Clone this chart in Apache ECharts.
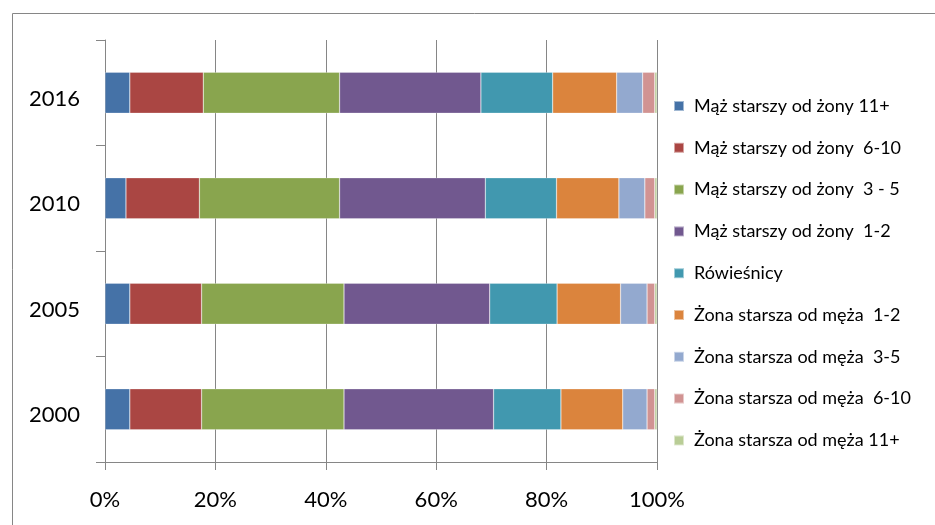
<!DOCTYPE html>
<html>
<head>
<meta charset="utf-8">
<script src="https://cdn.jsdelivr.net/npm/echarts@6/dist/echarts.min.js"></script>
<style>html,body{margin:0;padding:0;background:#fff}#c{width:935px;height:525px}</style>
</head>
<body>
<div id="c"></div>
<script>
const years = ['2000', '2005', '2010', '2016'];
const seriesNames = [
  'Mąż starszy od żony 11+',
  'Mąż starszy od żony  6-10',
  'Mąż starszy od żony  3 - 5',
  'Mąż starszy od żony  1-2',
  'Rówieśnicy',
  'Żona starsza od męża  1-2',
  'Żona starsza od męża  3-5',
  'Żona starsza od męża  6-10',
  'Żona starsza od męża 11+'
];
// values per series, ordered as years: 2000, 2005, 2010, 2016
const maz11 = [4.5, 4.5, 3.8, 4.5];
const maz6_10 = [13.0, 13.0, 13.3, 13.3];
const maz3_5 = [25.8, 25.8, 25.4, 24.7];
const maz1_2 = [27.1, 26.4, 26.4, 25.6];
const rowiesnicy = [12.2, 12.2, 12.9, 13.0];
const zona1_2 = [11.2, 11.5, 11.3, 11.6];
const zona3_5 = [4.4, 4.8, 4.7, 4.7];
const zona6_10 = [1.4, 1.4, 1.8, 2.2];
const zona11 = [0.4, 0.4, 0.4, 0.4];
const xTicks = ['0%', '20%', '40%', '60%', '80%', '100%'];

const allValues = [maz11, maz6_10, maz3_5, maz1_2, rowiesnicy, zona1_2, zona3_5, zona6_10, zona11];
const colors = ['#4572A7', '#AA4643', '#89A54E', '#71588F', '#4198AF', '#DB843D', '#93A9CF', '#D19392', '#B9CD96'];
const font = 'Lato, "Open Sans", sans-serif';

const chart = echarts.init(document.getElementById('c'));
chart.setOption({
  animation: false,
  color: colors,
  graphic: [{
    type: 'rect', left: 10, top: 11,
    shape: { width: 940, height: 530 },
    style: { fill: 'none', stroke: '#868686', lineWidth: 1 }
  }],
  grid: { left: 105, right: 278, top: 40, bottom: 63 },
  xAxis: {
    type: 'value', min: 0, max: 100, interval: 20,
    axisLine: { show: true, lineStyle: { color: '#868686' } },
    axisTick: { show: true, length: 8, lineStyle: { color: '#868686' } },
    splitLine: { show: true, lineStyle: { color: '#868686', width: 1 } },
    axisLabel: {
      color: '#000', fontSize: 22, fontFamily: font, margin: 27,
      formatter: v => xTicks[Math.round(v / 20)]
    }
  },
  yAxis: {
    type: 'category', data: years,
    axisLine: { show: true, lineStyle: { color: '#868686' } },
    axisTick: { show: true, length: 9, lineStyle: { color: '#868686' } },
    axisLabel: { color: '#000', fontSize: 22, fontFamily: font, margin: 25, verticalAlign: 'top', lineHeight: 12 }
  },
  legend: {
    orient: 'vertical', left: 668, top: 92, itemGap: 23.8,
    itemWidth: 10, itemHeight: 10, icon: 'rect',
    textStyle: { fontSize: 18, fontFamily: font, color: '#000', padding: [0, 0, 0, 5] },
    data: seriesNames
  },
  series: seriesNames.map((n, i) => ({
    name: n, type: 'bar', stack: 'all', barWidth: 41,
    itemStyle: { color: colors[i], borderColor: 'rgba(255,255,255,0.5)', borderWidth: 0.5 },
    data: allValues[i]
  }))
});
</script>
</body>
</html>
